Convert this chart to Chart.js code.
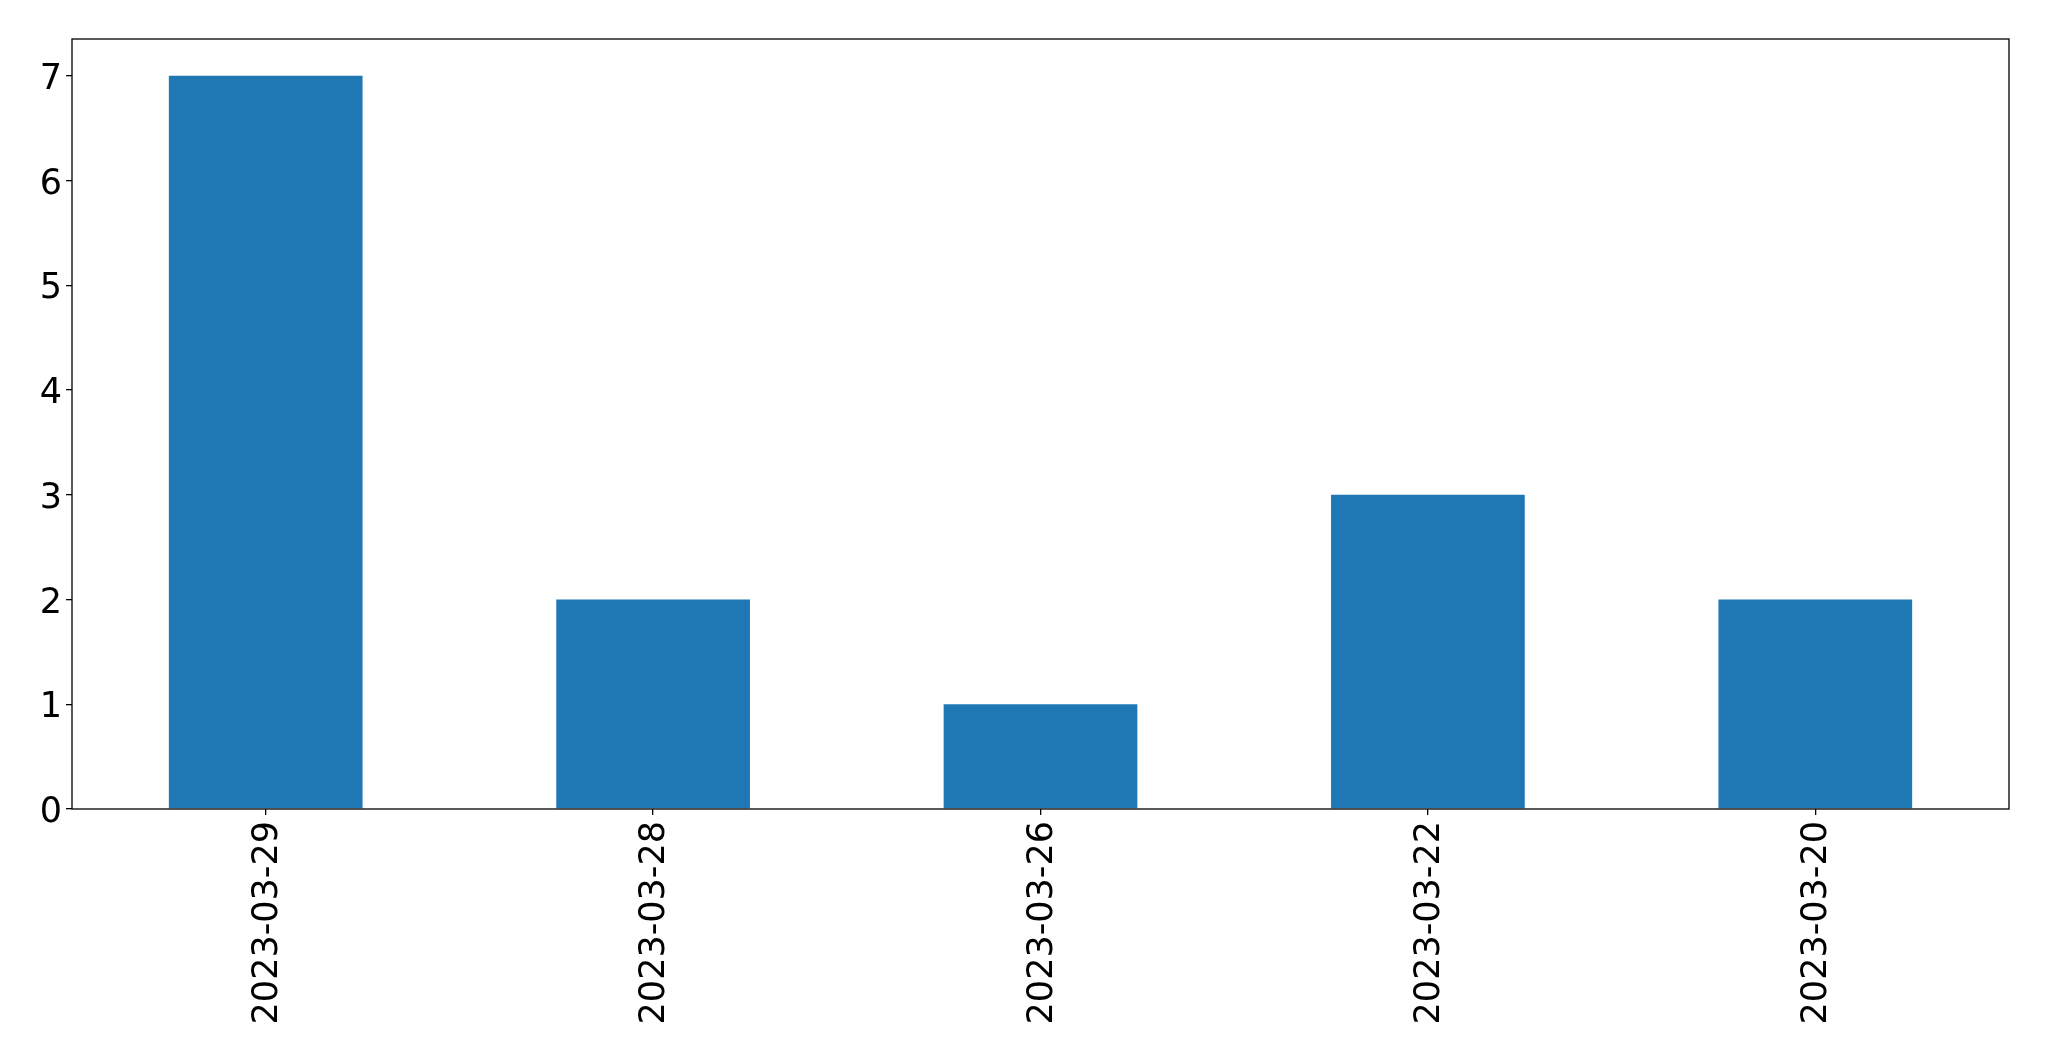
<!DOCTYPE html>
<html>
<head>
<meta charset="utf-8">
<script src="https://cdn.jsdelivr.net/npm/chart.js@4.4.0/dist/chart.umd.min.js"></script>
<style>
  html, body { margin: 0; padding: 0; background: #fff; }
  #wrap { width: 2049px; height: 1061px; }
</style>
</head>
<body>
<div id="wrap"><canvas id="chart" width="2049" height="1061"></canvas></div>
<script>
// dates on the x axis, counts per date
var dateLabels = ['2023-03-29', '2023-03-28', '2023-03-26', '2023-03-22', '2023-03-20'];
var countValues = [7, 2, 1, 3, 2];
var yTicks = [0, 1, 2, 3, 4, 5, 6, 7];

// box round the plot area, like matplotlib's spines
var frame = {
    id: 'frame',
    afterDraw: function(chart) {
        var a = chart.chartArea;
        var ctx = chart.ctx;
        ctx.save();
        ctx.strokeStyle = '#000';
        ctx.lineWidth = 1.3;
        ctx.strokeRect(a.left, a.top, a.right - a.left, a.bottom - a.top);
        ctx.restore();
    }
};

var ctx = document.getElementById('chart');
var chart = new Chart(ctx, {
    type: 'bar',
    data: {
        labels: dateLabels,
        datasets: [{
            data: countValues,
            backgroundColor: '#1f77b4',
            borderWidth: 0,
            barPercentage: 0.5,
            categoryPercentage: 1.0
        }]
    },
    options: {
        responsive: false,
        animation: false,
        layout: { padding: { top: 39, right: 40, left: 0, bottom: 0 } },
        plugins: { legend: { display: false }, tooltip: { enabled: false } },
        scales: {
            x: {
                offset: true,
                grid: { display: true, offset: false, drawOnChartArea: false, drawTicks: true, tickLength: 6, color: '#000', lineWidth: 1.3 },
                border: { display: false },
                ticks: {
                    color: '#000',
                    font: { family: 'DejaVu Sans', size: 35 },
                    minRotation: 90,
                    maxRotation: 90,
                    padding: 6,
                    labelOffset: 2,
                    autoSkip: false
                },
                afterFit: function(s) { s.height = 252; }
            },
            y: {
                min: 0,
                max: 7.35,
                grid: { display: true, drawOnChartArea: false, drawTicks: true, tickLength: 6, color: '#000', lineWidth: 1.3 },
                border: { display: false },
                afterBuildTicks: function(s) {
                    s.ticks = yTicks.map(function(v) { return { value: v }; });
                },
                ticks: {
                    color: '#000',
                    font: { family: 'DejaVu Sans', size: 35 },
                    padding: 4,
                    labelOffset: 4,
                    callback: function(v) { return v; }
                },
                afterFit: function(s) { s.width = 72; }
            }
        }
    },
    plugins: [frame]
});
</script>
</body>
</html>
